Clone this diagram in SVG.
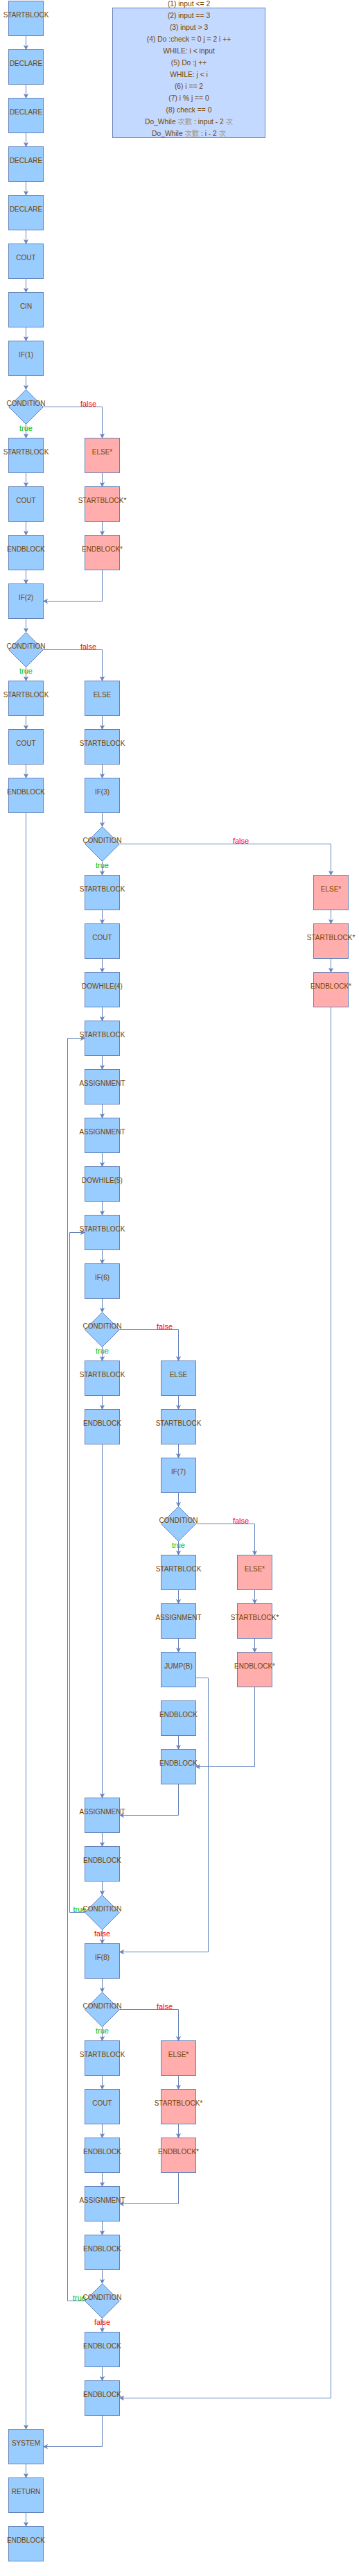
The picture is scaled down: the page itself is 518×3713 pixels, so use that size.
<svg xmlns="http://www.w3.org/2000/svg" width="518" height="3713" viewBox="0 0 518 3713">
<defs>
<style>
.b{fill:#99CCFF;stroke:#6482B9;stroke-width:1}
.p{fill:#FFADAD;stroke:#6482B9;stroke-width:1}
.t{font-family:"Liberation Sans",Arial,sans-serif;font-size:10px;fill:#774400;text-anchor:middle}
.e{fill:none;stroke:#6482B9;stroke-width:1;marker-end:url(#arr)}
.f{font-family:"Liberation Sans",Arial,sans-serif;font-size:11px;fill:#FF0000;text-anchor:middle}
.g{font-family:"Liberation Sans",Arial,sans-serif;font-size:11px;fill:#00C000;text-anchor:middle}
.i{font-family:"Liberation Sans","Noto Sans CJK TC",sans-serif;font-size:10.3px;fill:#774400;text-anchor:middle}
.c{fill:#A89888}
</style>
<marker id="arr" markerUnits="userSpaceOnUse" markerWidth="8" markerHeight="8" viewBox="0 0 8 8" refX="7" refY="4" orient="auto"><path d="M7,4 L1,1 L2.5,4 L1,7 Z" fill="#6482B9" stroke="#6482B9" stroke-width="0.6" stroke-linejoin="round"/></marker>
</defs>
<rect width="518" height="3713" fill="#FFFFFF"/>

<g id="info">
<rect x="162.5" y="11.5" width="220" height="187" fill="#C3D9FF" stroke="#6482B9"/>
<text class="i" x="272.5" y="9">(1) input &lt;= 2</text>
<text class="i" x="272.5" y="26">(2) input == 3</text>
<text class="i" x="272.5" y="43">(3) input &gt; 3</text>
<text class="i" x="272.5" y="60">(4) Do :check = 0 j = 2 i ++</text>
<text class="i" x="272.5" y="77">WHILE: i &lt; input</text>
<text class="i" x="272.5" y="94">(5) Do :j ++</text>
<text class="i" x="272.5" y="111">WHILE: j &lt; i</text>
<text class="i" x="272.5" y="128">(6) i == 2</text>
<text class="i" x="272.5" y="145">(7) i % j == 0</text>
<text class="i" x="272.5" y="162">(8) check == 0</text>
<text class="i" x="272.5" y="179">Do_While <tspan class="c">次數</tspan> : input - 2 <tspan class="c">次</tspan></text>
<text class="i" x="272.5" y="196">Do_While <tspan class="c">次數</tspan> : i - 2 <tspan class="c">次</tspan></text>
</g>

<g id="connectors">
<path class="e" d="M37.5,51.5V71.5"/>
<path class="e" d="M37.5,121.5V141.5"/>
<path class="e" d="M37.5,191.5V211.5"/>
<path class="e" d="M37.5,261.5V281.5"/>
<path class="e" d="M37.5,331.5V351.5"/>
<path class="e" d="M37.5,401.5V421.5"/>
<path class="e" d="M37.5,471.5V491.5"/>
<path class="e" d="M37.5,541.5V561.5"/>
<path class="e" d="M37.5,611.5V631.5"/>
<path class="e" d="M37.5,681.5V701.5"/>
<path class="e" d="M37.5,751.5V771.5"/>
<path class="e" d="M37.5,821.5V841.5"/>
<path class="e" d="M37.5,891.5V911.5"/>
<path class="e" d="M37.5,961.5V981.5"/>
<path class="e" d="M37.5,1031.5V1051.5"/>
<path class="e" d="M37.5,1101.5V1121.5"/>
<path class="e" d="M147.5,681.5V701.5"/>
<path class="e" d="M147.5,751.5V771.5"/>
<path class="e" d="M147.5,1031.5V1051.5"/>
<path class="e" d="M147.5,1101.5V1121.5"/>
<path class="e" d="M147.5,1171.5V1191.5"/>
<path class="e" d="M147.5,1241.5V1261.5"/>
<path class="e" d="M147.5,1311.5V1331.5"/>
<path class="e" d="M147.5,1381.5V1401.5"/>
<path class="e" d="M147.5,1451.5V1471.5"/>
<path class="e" d="M147.5,1521.5V1541.5"/>
<path class="e" d="M147.5,1591.5V1611.5"/>
<path class="e" d="M147.5,1661.5V1681.5"/>
<path class="e" d="M147.5,1731.5V1751.5"/>
<path class="e" d="M147.5,1801.5V1821.5"/>
<path class="e" d="M147.5,1871.5V1891.5"/>
<path class="e" d="M147.5,1941.5V1961.5"/>
<path class="e" d="M147.5,2011.5V2031.5"/>
<path class="e" d="M477.5,1311.5V1331.5"/>
<path class="e" d="M477.5,1381.5V1401.5"/>
<path class="e" d="M257.5,2011.5V2031.5"/>
<path class="e" d="M257.5,2081.5V2101.5"/>
<path class="e" d="M257.5,2151.5V2171.5"/>
<path class="e" d="M257.5,2221.5V2241.5"/>
<path class="e" d="M257.5,2291.5V2311.5"/>
<path class="e" d="M257.5,2361.5V2381.5"/>
<path class="e" d="M257.5,2501.5V2521.5"/>
<path class="e" d="M367.5,2291.5V2311.5"/>
<path class="e" d="M367.5,2361.5V2381.5"/>
<path class="e" d="M147.5,2641.5V2661.5"/>
<path class="e" d="M147.5,2711.5V2731.5"/>
<path class="e" d="M147.5,2781.5V2801.5"/>
<path class="e" d="M147.5,2851.5V2871.5"/>
<path class="e" d="M147.5,2921.5V2941.5"/>
<path class="e" d="M147.5,2991.5V3011.5"/>
<path class="e" d="M147.5,3061.5V3081.5"/>
<path class="e" d="M147.5,3131.5V3151.5"/>
<path class="e" d="M147.5,3201.5V3221.5"/>
<path class="e" d="M147.5,3271.5V3291.5"/>
<path class="e" d="M147.5,3341.5V3361.5"/>
<path class="e" d="M147.5,3411.5V3431.5"/>
<path class="e" d="M257.5,2991.5V3011.5"/>
<path class="e" d="M257.5,3061.5V3081.5"/>
<path class="e" d="M37.5,3551.5V3571.5"/>
<path class="e" d="M37.5,3621.5V3641.5"/>
<path class="e" d="M147.5,2081.5V2591.5"/>
<path class="e" d="M37.5,1171.5V3501.5"/>
<path class="e" d="M62.5,586.5H147.5V631.5"/>
<path class="e" d="M62.5,936.5H147.5V981.5"/>
<path class="e" d="M172.5,1216.5H477.5V1261.5"/>
<path class="e" d="M172.5,1916.5H257.5V1961.5"/>
<path class="e" d="M282.5,2196.5H367.5V2241.5"/>
<path class="e" d="M172.5,2896.5H257.5V2941.5"/>
<path class="e" d="M147.5,821.5V866.5H62.5"/>
<path class="e" d="M477.5,1451.5V3456.5H172.5"/>
<path class="e" d="M367.5,2431.5V2546.5H282.5"/>
<path class="e" d="M257.5,2571.5V2616.5H172.5"/>
<path class="e" d="M282.5,2418.5H300.5V2813.5H172.5"/>
<path class="e" d="M257.5,3131.5V3176.5H172.5"/>
<path class="e" d="M147.5,3481.5V3526.5H62.5"/>
<path class="e" d="M122.5,2756.5H100.5V1776.5H122.5"/>
<path class="e" d="M122.5,3316.5H97.5V1496.5H122.5"/>
<text class="f" x="127.5" y="585.5">false</text>
<text class="f" x="127.5" y="935.5">false</text>
<text class="f" x="347.5" y="1215.5">false</text>
<text class="f" x="237.5" y="1915.5">false</text>
<text class="f" x="347.5" y="2195.5">false</text>
<text class="f" x="237.5" y="2895.5">false</text>
<text class="f" x="147.5" y="2790.5">false</text>
<text class="f" x="147.5" y="3350.5">false</text>
<text class="g" x="37.5" y="620.5">true</text>
<text class="g" x="37.5" y="970.5">true</text>
<text class="g" x="147.5" y="1250.5">true</text>
<text class="g" x="147.5" y="1950.5">true</text>
<text class="g" x="257.5" y="2230.5">true</text>
<text class="g" x="147.5" y="2930.5">true</text>
<text class="g" x="115" y="2755.5">true</text>
<text class="g" x="114.5" y="3315.5">true</text>
</g>

<g id="n0" transform="translate(12.5,1.5)"><rect class="b" width="50" height="50"/><text class="t" x="25" y="23.5">STARTBLOCK</text></g>
<g id="n1" transform="translate(12.5,71.5)"><rect class="b" width="50" height="50"/><text class="t" x="25" y="23.5">DECLARE</text></g>
<g id="n2" transform="translate(12.5,141.5)"><rect class="b" width="50" height="50"/><text class="t" x="25" y="23.5">DECLARE</text></g>
<g id="n3" transform="translate(12.5,211.5)"><rect class="b" width="50" height="50"/><text class="t" x="25" y="23.5">DECLARE</text></g>
<g id="n4" transform="translate(12.5,281.5)"><rect class="b" width="50" height="50"/><text class="t" x="25" y="23.5">DECLARE</text></g>
<g id="n5" transform="translate(12.5,351.5)"><rect class="b" width="50" height="50"/><text class="t" x="25" y="23.5">COUT</text></g>
<g id="n6" transform="translate(12.5,421.5)"><rect class="b" width="50" height="50"/><text class="t" x="25" y="23.5">CIN</text></g>
<g id="n7" transform="translate(12.5,491.5)"><rect class="b" width="50" height="50"/><text class="t" x="25" y="23.5">IF(1)</text></g>
<g id="n8" transform="translate(12.5,561.5)"><path class="b" d="M25,0L50,25L25,50L0,25Z"/><text class="t" x="25" y="23.5">CONDITION</text></g>
<g id="n9" transform="translate(12.5,631.5)"><rect class="b" width="50" height="50"/><text class="t" x="25" y="23.5">STARTBLOCK</text></g>
<g id="n10" transform="translate(122.5,631.5)"><rect class="p" width="50" height="50"/><text class="t" x="25" y="23.5">ELSE*</text></g>
<g id="n11" transform="translate(12.5,701.5)"><rect class="b" width="50" height="50"/><text class="t" x="25" y="23.5">COUT</text></g>
<g id="n12" transform="translate(122.5,701.5)"><rect class="p" width="50" height="50"/><text class="t" x="25" y="23.5">STARTBLOCK*</text></g>
<g id="n13" transform="translate(12.5,771.5)"><rect class="b" width="50" height="50"/><text class="t" x="25" y="23.5">ENDBLOCK</text></g>
<g id="n14" transform="translate(122.5,771.5)"><rect class="p" width="50" height="50"/><text class="t" x="25" y="23.5">ENDBLOCK*</text></g>
<g id="n15" transform="translate(12.5,841.5)"><rect class="b" width="50" height="50"/><text class="t" x="25" y="23.5">IF(2)</text></g>
<g id="n16" transform="translate(12.5,911.5)"><path class="b" d="M25,0L50,25L25,50L0,25Z"/><text class="t" x="25" y="23.5">CONDITION</text></g>
<g id="n17" transform="translate(12.5,981.5)"><rect class="b" width="50" height="50"/><text class="t" x="25" y="23.5">STARTBLOCK</text></g>
<g id="n18" transform="translate(122.5,981.5)"><rect class="b" width="50" height="50"/><text class="t" x="25" y="23.5">ELSE</text></g>
<g id="n19" transform="translate(12.5,1051.5)"><rect class="b" width="50" height="50"/><text class="t" x="25" y="23.5">COUT</text></g>
<g id="n20" transform="translate(122.5,1051.5)"><rect class="b" width="50" height="50"/><text class="t" x="25" y="23.5">STARTBLOCK</text></g>
<g id="n21" transform="translate(12.5,1121.5)"><rect class="b" width="50" height="50"/><text class="t" x="25" y="23.5">ENDBLOCK</text></g>
<g id="n22" transform="translate(122.5,1121.5)"><rect class="b" width="50" height="50"/><text class="t" x="25" y="23.5">IF(3)</text></g>
<g id="n23" transform="translate(122.5,1191.5)"><path class="b" d="M25,0L50,25L25,50L0,25Z"/><text class="t" x="25" y="23.5">CONDITION</text></g>
<g id="n24" transform="translate(122.5,1261.5)"><rect class="b" width="50" height="50"/><text class="t" x="25" y="23.5">STARTBLOCK</text></g>
<g id="n25" transform="translate(452.5,1261.5)"><rect class="p" width="50" height="50"/><text class="t" x="25" y="23.5">ELSE*</text></g>
<g id="n26" transform="translate(122.5,1331.5)"><rect class="b" width="50" height="50"/><text class="t" x="25" y="23.5">COUT</text></g>
<g id="n27" transform="translate(452.5,1331.5)"><rect class="p" width="50" height="50"/><text class="t" x="25" y="23.5">STARTBLOCK*</text></g>
<g id="n28" transform="translate(122.5,1401.5)"><rect class="b" width="50" height="50"/><text class="t" x="25" y="23.5">DOWHILE(4)</text></g>
<g id="n29" transform="translate(452.5,1401.5)"><rect class="p" width="50" height="50"/><text class="t" x="25" y="23.5">ENDBLOCK*</text></g>
<g id="n30" transform="translate(122.5,1471.5)"><rect class="b" width="50" height="50"/><text class="t" x="25" y="23.5">STARTBLOCK</text></g>
<g id="n31" transform="translate(122.5,1541.5)"><rect class="b" width="50" height="50"/><text class="t" x="25" y="23.5">ASSIGNMENT</text></g>
<g id="n32" transform="translate(122.5,1611.5)"><rect class="b" width="50" height="50"/><text class="t" x="25" y="23.5">ASSIGNMENT</text></g>
<g id="n33" transform="translate(122.5,1681.5)"><rect class="b" width="50" height="50"/><text class="t" x="25" y="23.5">DOWHILE(5)</text></g>
<g id="n34" transform="translate(122.5,1751.5)"><rect class="b" width="50" height="50"/><text class="t" x="25" y="23.5">STARTBLOCK</text></g>
<g id="n35" transform="translate(122.5,1821.5)"><rect class="b" width="50" height="50"/><text class="t" x="25" y="23.5">IF(6)</text></g>
<g id="n36" transform="translate(122.5,1891.5)"><path class="b" d="M25,0L50,25L25,50L0,25Z"/><text class="t" x="25" y="23.5">CONDITION</text></g>
<g id="n37" transform="translate(122.5,1961.5)"><rect class="b" width="50" height="50"/><text class="t" x="25" y="23.5">STARTBLOCK</text></g>
<g id="n38" transform="translate(232.5,1961.5)"><rect class="b" width="50" height="50"/><text class="t" x="25" y="23.5">ELSE</text></g>
<g id="n39" transform="translate(122.5,2031.5)"><rect class="b" width="50" height="50"/><text class="t" x="25" y="23.5">ENDBLOCK</text></g>
<g id="n40" transform="translate(232.5,2031.5)"><rect class="b" width="50" height="50"/><text class="t" x="25" y="23.5">STARTBLOCK</text></g>
<g id="n41" transform="translate(232.5,2101.5)"><rect class="b" width="50" height="50"/><text class="t" x="25" y="23.5">IF(7)</text></g>
<g id="n42" transform="translate(232.5,2171.5)"><path class="b" d="M25,0L50,25L25,50L0,25Z"/><text class="t" x="25" y="23.5">CONDITION</text></g>
<g id="n43" transform="translate(232.5,2241.5)"><rect class="b" width="50" height="50"/><text class="t" x="25" y="23.5">STARTBLOCK</text></g>
<g id="n44" transform="translate(342.5,2241.5)"><rect class="p" width="50" height="50"/><text class="t" x="25" y="23.5">ELSE*</text></g>
<g id="n45" transform="translate(232.5,2311.5)"><rect class="b" width="50" height="50"/><text class="t" x="25" y="23.5">ASSIGNMENT</text></g>
<g id="n46" transform="translate(342.5,2311.5)"><rect class="p" width="50" height="50"/><text class="t" x="25" y="23.5">STARTBLOCK*</text></g>
<g id="n47" transform="translate(232.5,2381.5)"><rect class="b" width="50" height="50"/><text class="t" x="25" y="23.5">JUMP(B)</text></g>
<g id="n48" transform="translate(342.5,2381.5)"><rect class="p" width="50" height="50"/><text class="t" x="25" y="23.5">ENDBLOCK*</text></g>
<g id="n49" transform="translate(232.5,2451.5)"><rect class="b" width="50" height="50"/><text class="t" x="25" y="23.5">ENDBLOCK</text></g>
<g id="n50" transform="translate(232.5,2521.5)"><rect class="b" width="50" height="50"/><text class="t" x="25" y="23.5">ENDBLOCK</text></g>
<g id="n51" transform="translate(122.5,2591.5)"><rect class="b" width="50" height="50"/><text class="t" x="25" y="23.5">ASSIGNMENT</text></g>
<g id="n52" transform="translate(122.5,2661.5)"><rect class="b" width="50" height="50"/><text class="t" x="25" y="23.5">ENDBLOCK</text></g>
<g id="n53" transform="translate(122.5,2731.5)"><path class="b" d="M25,0L50,25L25,50L0,25Z"/><text class="t" x="25" y="23.5">CONDITION</text></g>
<g id="n54" transform="translate(122.5,2801.5)"><rect class="b" width="50" height="50"/><text class="t" x="25" y="23.5">IF(8)</text></g>
<g id="n55" transform="translate(122.5,2871.5)"><path class="b" d="M25,0L50,25L25,50L0,25Z"/><text class="t" x="25" y="23.5">CONDITION</text></g>
<g id="n56" transform="translate(122.5,2941.5)"><rect class="b" width="50" height="50"/><text class="t" x="25" y="23.5">STARTBLOCK</text></g>
<g id="n57" transform="translate(232.5,2941.5)"><rect class="p" width="50" height="50"/><text class="t" x="25" y="23.5">ELSE*</text></g>
<g id="n58" transform="translate(122.5,3011.5)"><rect class="b" width="50" height="50"/><text class="t" x="25" y="23.5">COUT</text></g>
<g id="n59" transform="translate(232.5,3011.5)"><rect class="p" width="50" height="50"/><text class="t" x="25" y="23.5">STARTBLOCK*</text></g>
<g id="n60" transform="translate(122.5,3081.5)"><rect class="b" width="50" height="50"/><text class="t" x="25" y="23.5">ENDBLOCK</text></g>
<g id="n61" transform="translate(232.5,3081.5)"><rect class="p" width="50" height="50"/><text class="t" x="25" y="23.5">ENDBLOCK*</text></g>
<g id="n62" transform="translate(122.5,3151.5)"><rect class="b" width="50" height="50"/><text class="t" x="25" y="23.5">ASSIGNMENT</text></g>
<g id="n63" transform="translate(122.5,3221.5)"><rect class="b" width="50" height="50"/><text class="t" x="25" y="23.5">ENDBLOCK</text></g>
<g id="n64" transform="translate(122.5,3291.5)"><path class="b" d="M25,0L50,25L25,50L0,25Z"/><text class="t" x="25" y="23.5">CONDITION</text></g>
<g id="n65" transform="translate(122.5,3361.5)"><rect class="b" width="50" height="50"/><text class="t" x="25" y="23.5">ENDBLOCK</text></g>
<g id="n66" transform="translate(122.5,3431.5)"><rect class="b" width="50" height="50"/><text class="t" x="25" y="23.5">ENDBLOCK</text></g>
<g id="n67" transform="translate(12.5,3501.5)"><rect class="b" width="50" height="50"/><text class="t" x="25" y="23.5">SYSTEM</text></g>
<g id="n68" transform="translate(12.5,3571.5)"><rect class="b" width="50" height="50"/><text class="t" x="25" y="23.5">RETURN</text></g>
<g id="n69" transform="translate(12.5,3641.5)"><rect class="b" width="50" height="50"/><text class="t" x="25" y="23.5">ENDBLOCK</text></g>
</svg>
